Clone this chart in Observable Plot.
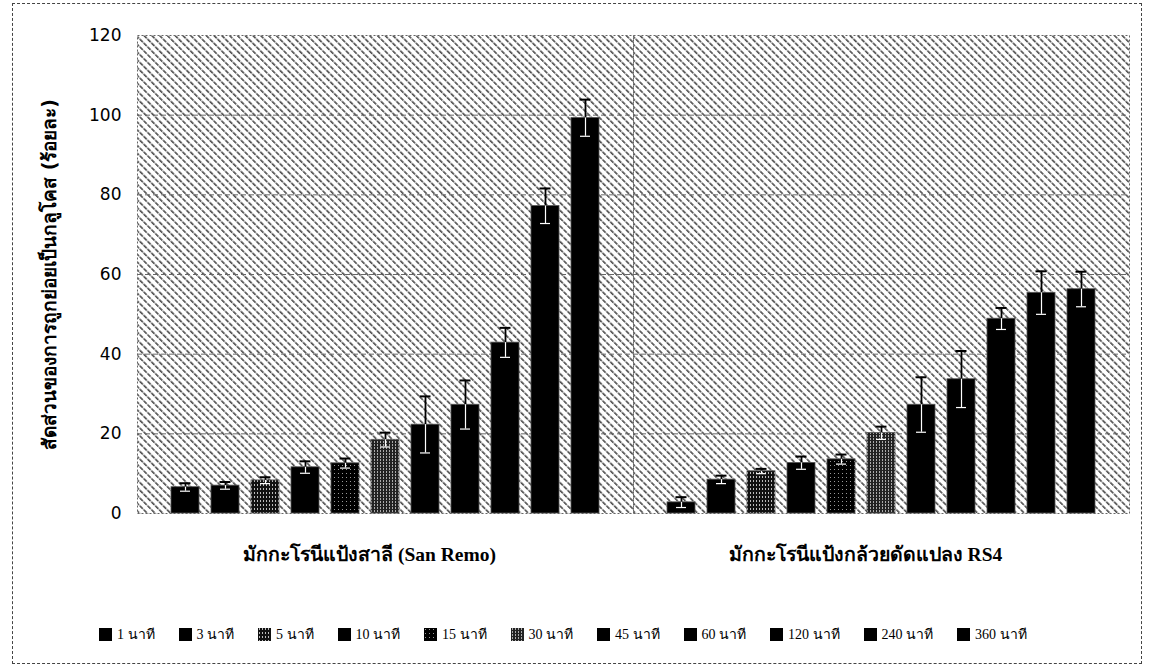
<!DOCTYPE html>
<html>
<head>
<meta charset="utf-8">
<script src="https://cdn.jsdelivr.net/npm/d3@7"></script>
<script src="https://cdn.jsdelivr.net/npm/@observablehq/plot@0.6"></script>
<style>
  html, body { margin: 0; padding: 0; background: white; }
  #wrap { position: relative; width: 1154px; height: 668px; overflow: hidden; }
  #border { position: absolute; left: 12px; top: 3px; width: 1130px; height: 661px; border: 1px dashed #444; box-sizing: border-box; pointer-events: none; }
  #legend { position: absolute; top: 623px; left: 99px; display: flex; align-items: center;
            font-family: "Liberation Serif", "Noto Serif", serif; font-size: 14px; color: #000; }
  .item { display: flex; align-items: center; margin-right: 24px; }
  .item svg { margin-right: 5px; }
</style>
</head>
<body>
<div id="wrap">
  <div id="chart"></div>
  <div id="legend"></div>
  <div id="border"></div>
</div>
<script>
const times = ["1 นาที", "3 นาที", "5 นาที", "10 นาที", "15 นาที", "30 นาที", "45 นาที", "60 นาที", "120 นาที", "240 นาที", "360 นาที"];
const groups = ["มักกะโรนีแป้งสาลี (San Remo)", "มักกะโรนีแป้งกล้วยดัดแปลง RS4"];
const sanRemo    = [6.6, 7.0, 8.3, 11.6, 12.6, 18.5, 22.3, 27.3, 42.9, 77.2, 99.3];
const sanRemoErr = [1.0, 0.9, 0.8, 1.5, 1.2, 1.8, 7.1, 6.1, 3.7, 4.4, 4.6];
const rs4        = [2.8, 8.5, 10.6, 12.7, 13.6, 20.2, 27.3, 33.7, 48.9, 55.4, 56.3];
const rs4Err     = [1.3, 1.0, 0.6, 1.6, 1.2, 1.6, 6.9, 7.1, 2.7, 5.4, 4.4];
const yTicks = [0, 20, 40, 60, 80, 100, 120];
const yLabel = "สัดส่วนของการถูกย่อยเป็นกลูโคส (ร้อยละ)";

const fills = ["black", "black", "url(#p5)", "black", "url(#p15)", "url(#p30)", "black", "black", "black", "black", "black"];

const data = [];
[[sanRemo, sanRemoErr], [rs4, rs4Err]].forEach(([vals, errs], gi) => {
  vals.forEach((v, i) => data.push({group: groups[gi], time: times[i], value: v, lo: v - errs[i], hi: v + errs[i]}));
});

const serif = '"Liberation Serif", "Noto Serif", serif';

const plot = Plot.plot({
  width: 1154, height: 580,
  marginTop: 35, marginBottom: 67, marginLeft: 136, marginRight: 25,
  fx: {domain: groups, padding: 0, label: null},
  x: {domain: times, paddingInner: 0.3, paddingOuter: 0.8, axis: null},
  y: {domain: [0, 120]},
  color: {domain: times, range: fills},
  style: {fontFamily: '"DejaVu Sans", sans-serif', fontSize: "16px", background: "white", color: "black"},
  marks: [
    Plot.frame({fill: "url(#hatch)", stroke: null}),
    Plot.gridY(yTicks.slice(1, -1), {stroke: "#666", strokeOpacity: 1, strokeDasharray: "5,3", strokeWidth: 1}),
    Plot.frame({stroke: "#666", strokeDasharray: "2,2", strokeWidth: 1}),
    Plot.barY(data, {fx: "group", x: "time", y: "value", fill: "time", stroke: "#555", strokeWidth: 0.8}),
    Plot.ruleX(data, {fx: "group", x: "time", y1: "value", y2: "hi", stroke: "black", strokeWidth: 1.8}),
    Plot.tickY(data, {fx: "group", x: "time", y: "hi", stroke: "black", strokeWidth: 2, insetLeft: 8.5, insetRight: 8.5}),
    Plot.ruleX(data, {fx: "group", x: "time", y1: "lo", y2: "value", stroke: "white", strokeWidth: 1.2}),
    Plot.tickY(data, {fx: "group", x: "time", y: "lo", stroke: "white", strokeWidth: 1.2, insetLeft: 9, insetRight: 9}),
    Plot.axisY({ticks: yTicks, tickSize: 0, tickPadding: 16, fontSize: 17,
                label: yLabel, labelAnchor: "center", labelArrow: "none", labelOffset: 95}),
    Plot.axisFx({anchor: "bottom", tickSize: 0, tickPadding: 34, fontSize: 19.5, fontWeight: "bold",
                 fontFamily: serif, label: null, dx: -16})
  ]
});

d3.select(plot).insert("defs", ":first-child").html(`
  <pattern id="hatch" patternUnits="userSpaceOnUse" width="5.5" height="5.5" patternTransform="rotate(45)">
    <rect width="5.5" height="5.5" fill="white"/>
    <line x1="0" y1="1" x2="5.5" y2="1" stroke="#4a4a4a" stroke-width="1.5" stroke-dasharray="3,1"/>
  </pattern>
  <pattern id="p5" patternUnits="userSpaceOnUse" width="3" height="4">
    <rect width="3" height="4" fill="#111"/>
    <rect x="1" y="0" width="1" height="2" fill="#bbb"/>
  </pattern>
  <pattern id="p15" patternUnits="userSpaceOnUse" width="4" height="4">
    <rect width="4" height="4" fill="#000"/>
    <rect x="1" y="1" width="1" height="1" fill="#999"/>
  </pattern>
  <pattern id="p30" patternUnits="userSpaceOnUse" width="3" height="3">
    <rect width="3" height="3" fill="#222"/>
    <rect x="1" y="0" width="1" height="2" fill="#aaa"/>
  </pattern>
`);

// y-axis label styling
d3.select(plot).selectAll('[aria-label="y-axis label"] text')
  .style("font-weight", "bold").style("font-size", "19px")
  .style("font-family", '"DejaVu Sans", "Noto Sans", sans-serif');

document.getElementById("chart").appendChild(plot);

const legend = d3.select("#legend");
times.forEach((t, i) => {
  const it = legend.append("div").attr("class", "item");
  const s = it.append("svg").attr("width", 13).attr("height", 13);
  s.append("rect").attr("width", 13).attr("height", 13).attr("fill", fills[i]);
  it.append("span").text(t);
});
</script>
</body>
</html>
